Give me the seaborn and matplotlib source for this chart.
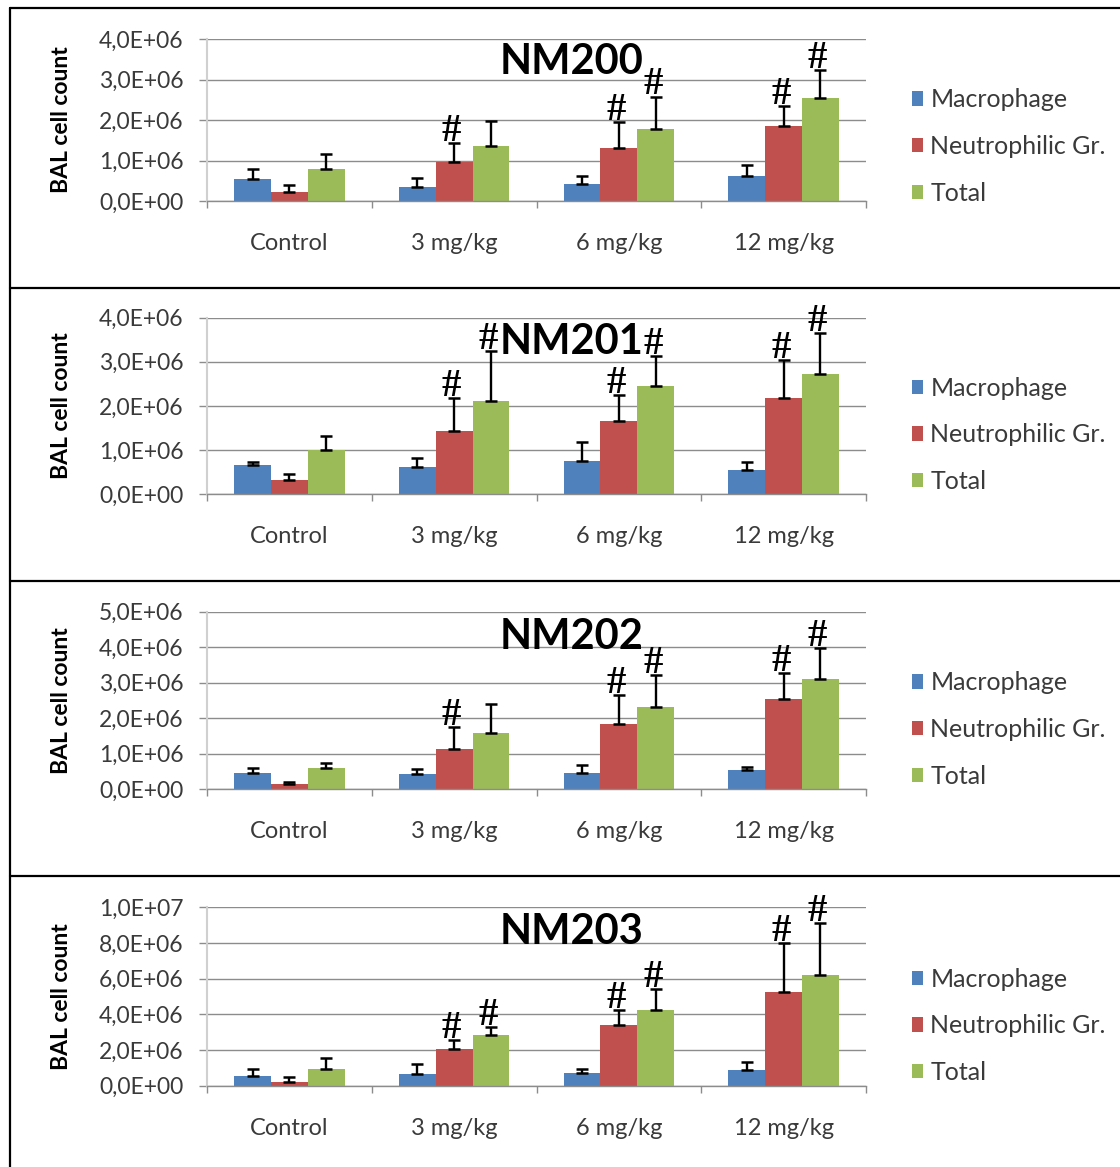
import matplotlib
matplotlib.use("Agg")
import matplotlib.pyplot as plt
import seaborn as sns
import pandas as pd
from matplotlib.lines import Line2D
from matplotlib.patches import Patch

# ---------------- data ----------------
doses = ["Control", "3 mg/kg", "6 mg/kg", "12 mg/kg"]
cell_types = ["Macrophage", "Neutrophilic Gr.", "Total"]
panel_titles = ["NM200", "NM201", "NM202", "NM203"]
colors = ["#4F81BD", "#C0504D", "#9BBB59"]

# NM200
nm200_mac = [0.54e6, 0.35e6, 0.42e6, 0.61e6]
nm200_neu = [0.21e6, 0.96e6, 1.32e6, 1.86e6]
nm200_tot = [0.79e6, 1.35e6, 1.78e6, 2.54e6]
nm200_mac_sd = [0.25e6, 0.23e6, 0.20e6, 0.29e6]
nm200_neu_sd = [0.18e6, 0.46e6, 0.62e6, 0.49e6]
nm200_tot_sd = [0.38e6, 0.63e6, 0.80e6, 0.69e6]
nm200_sig = [(1, 1), (2, 1), (2, 2), (3, 1), (3, 2)]
nm200_yticks = [0, 1e6, 2e6, 3e6, 4e6]
nm200_yticklabels = ["0,0E+00", "1,0E+06", "2,0E+06", "3,0E+06", "4,0E+06"]

# NM201
nm201_mac = [0.65e6, 0.62e6, 0.74e6, 0.54e6]
nm201_neu = [0.32e6, 1.43e6, 1.66e6, 2.17e6]
nm201_tot = [1.00e6, 2.10e6, 2.46e6, 2.73e6]
nm201_mac_sd = [0.07e6, 0.20e6, 0.45e6, 0.18e6]
nm201_neu_sd = [0.14e6, 0.74e6, 0.59e6, 0.87e6]
nm201_tot_sd = [0.31e6, 1.15e6, 0.66e6, 0.92e6]
nm201_sig = [(1, 1), (1, 2), (2, 1), (2, 2), (3, 1), (3, 2)]
nm201_yticks = [0, 1e6, 2e6, 3e6, 4e6]
nm201_yticklabels = ["0,0E+00", "1,0E+06", "2,0E+06", "3,0E+06", "4,0E+06"]

# NM202
nm202_mac = [0.45e6, 0.41e6, 0.45e6, 0.53e6]
nm202_neu = [0.15e6, 1.13e6, 1.82e6, 2.55e6]
nm202_tot = [0.58e6, 1.58e6, 2.30e6, 3.10e6]
nm202_mac_sd = [0.13e6, 0.15e6, 0.23e6, 0.09e6]
nm202_neu_sd = [0.06e6, 0.63e6, 0.83e6, 0.71e6]
nm202_tot_sd = [0.14e6, 0.81e6, 0.91e6, 0.87e6]
nm202_sig = [(1, 1), (2, 1), (2, 2), (3, 1), (3, 2)]
nm202_yticks = [0, 1e6, 2e6, 3e6, 4e6, 5e6]
nm202_yticklabels = ["0,0E+00", "1,0E+06", "2,0E+06", "3,0E+06", "4,0E+06", "5,0E+06"]

# NM203
nm203_mac = [0.56e6, 0.64e6, 0.71e6, 0.86e6]
nm203_neu = [0.21e6, 2.07e6, 3.40e6, 5.27e6]
nm203_tot = [0.93e6, 2.82e6, 4.24e6, 6.19e6]
nm203_mac_sd = [0.39e6, 0.56e6, 0.24e6, 0.47e6]
nm203_neu_sd = [0.29e6, 0.49e6, 0.84e6, 2.71e6]
nm203_tot_sd = [0.62e6, 0.45e6, 1.20e6, 2.91e6]
nm203_sig = [(1, 1), (1, 2), (2, 1), (2, 2), (3, 1), (3, 2)]
nm203_yticks = [0, 2e6, 4e6, 6e6, 8e6, 1e7]
nm203_yticklabels = ["0,0E+00", "2,0E+06", "4,0E+06", "6,0E+06", "8,0E+06", "1,0E+07"]

panels = [
    (nm200_mac, nm200_neu, nm200_tot, nm200_mac_sd, nm200_neu_sd, nm200_tot_sd,
     nm200_sig, nm200_yticks, nm200_yticklabels),
    (nm201_mac, nm201_neu, nm201_tot, nm201_mac_sd, nm201_neu_sd, nm201_tot_sd,
     nm201_sig, nm201_yticks, nm201_yticklabels),
    (nm202_mac, nm202_neu, nm202_tot, nm202_mac_sd, nm202_neu_sd, nm202_tot_sd,
     nm202_sig, nm202_yticks, nm202_yticklabels),
    (nm203_mac, nm203_neu, nm203_tot, nm203_mac_sd, nm203_neu_sd, nm203_tot_sd,
     nm203_sig, nm203_yticks, nm203_yticklabels),
]

# ---------------- styling ----------------
sns.set_style("white")
plt.rcParams["font.family"] = ["Lato", "DejaVu Sans"]

W, H = 1120, 1167
fig = plt.figure(figsize=(W / 100, H / 100), dpi=100)

# axes boxes in pixel coordinates (left, top, right, bottom)
axes_px = [
    (207, 39.0, 866, 201.0),
    (207, 317.7, 866, 494.0),
    (207, 611.7, 866, 789.0),
    (207, 907.3, 866, 1085.7),
]

grid_color = "#8C8C8C"
text_color = "#3A3A3A"

for p, (mac, neu, tot, mac_sd, neu_sd, tot_sd, sig, yticks, ylabels) in enumerate(panels):
    l, t, r, b = axes_px[p]
    ax = fig.add_axes([l / W, 1 - b / H, (r - l) / W, (b - t) / H])

    df = pd.DataFrame({
        "dose": doses * 3,
        "cell": [c for c in cell_types for _ in doses],
        "count": mac + neu + tot,
    })
    sns.barplot(data=df, x="dose", y="count", hue="cell", order=doses,
                hue_order=cell_types, palette=colors, saturation=1, width=0.67,
                errorbar=None, linewidth=0, legend=False, ax=ax, zorder=2)

    sds = [mac_sd, neu_sd, tot_sd]
    bar_containers = list(ax.containers)
    tops = {}
    for j, container in enumerate(bar_containers):
        for k, bar in enumerate(container.patches):
            x = bar.get_x() + bar.get_width() / 2
            h = bar.get_height()
            ax.errorbar(x, h, yerr=[[0], [sds[j][k]]], fmt="none", ecolor="black",
                        elinewidth=1.7, capsize=4, capthick=1.8, zorder=3)
            tops[(k, j)] = (x, h + sds[j][k])

    for (k, j) in sig:
        x, y = tops[(k, j)]
        ax.annotate("#", xy=(x, y), xytext=(-2, -5), textcoords="offset points",
                    ha="center", va="bottom", fontsize=28, fontweight="bold",
                    family=["Liberation Serif", "DejaVu Serif"], color="black",
                    zorder=5, annotation_clip=False)

    ax.set_ylim(yticks[0], yticks[-1])
    ax.set_xlim(-0.5, 3.5)
    ax.set_yticks(yticks)
    ax.set_yticklabels(ylabels, fontsize=16.5, color=text_color)
    ax.set_xticks(range(len(doses)))
    ax.set_xticklabels(doses, fontsize=17, color=text_color)
    ax.set_xticks([-0.5, 0.5, 1.5, 2.5, 3.5], minor=True)
    ax.tick_params(axis="x", which="major", length=0, pad=23)
    ax.tick_params(axis="x", which="minor", length=5, width=1, color=grid_color,
                   direction="out", bottom=True)
    ax.tick_params(axis="y", which="major", length=6, width=1, color=grid_color,
                   direction="out", left=True, pad=11)
    ax.set_xlabel("")
    ax.set_ylabel("BAL cell count", fontsize=16.5, fontweight="bold", color="black")
    ax.yaxis.set_label_coords(-0.205, 0.5)

    ax.grid(axis="y", color=grid_color, linewidth=1)
    ax.set_axisbelow(True)
    for s in ["top", "right"]:
        ax.spines[s].set_visible(False)
    ax.spines["left"].set_color("#D0D0D0")
    ax.spines["left"].set_linewidth(1.5)
    ax.spines["bottom"].set_color(grid_color)
    ax.spines["bottom"].set_linewidth(1)

    ax.text(0.553, 0.86, panel_titles[p], transform=ax.transAxes, ha="center",
            va="center", fontsize=30, fontweight="bold", color="black", zorder=6)

    handles = [Patch(facecolor=c, edgecolor="none") for c in colors]
    ax.legend(handles, cell_types, loc="center left", bbox_to_anchor=(1.035, 0.335),
              frameon=False, fontsize=18, handlelength=0.45, handleheight=0.5,
              handletextpad=0.3, labelspacing=0.95, labelcolor=text_color)

# panel borders
for y in [8, 288, 581, 876]:
    fig.add_artist(Line2D([10 / W, 1.0], [1 - y / H, 1 - y / H], color="black",
                          linewidth=1.6, transform=fig.transFigure))
fig.add_artist(Line2D([10 / W, 10 / W], [1 - 8 / H, 0.0], color="black",
                      linewidth=1.6, transform=fig.transFigure))

fig.savefig("out.png", dpi=100)
